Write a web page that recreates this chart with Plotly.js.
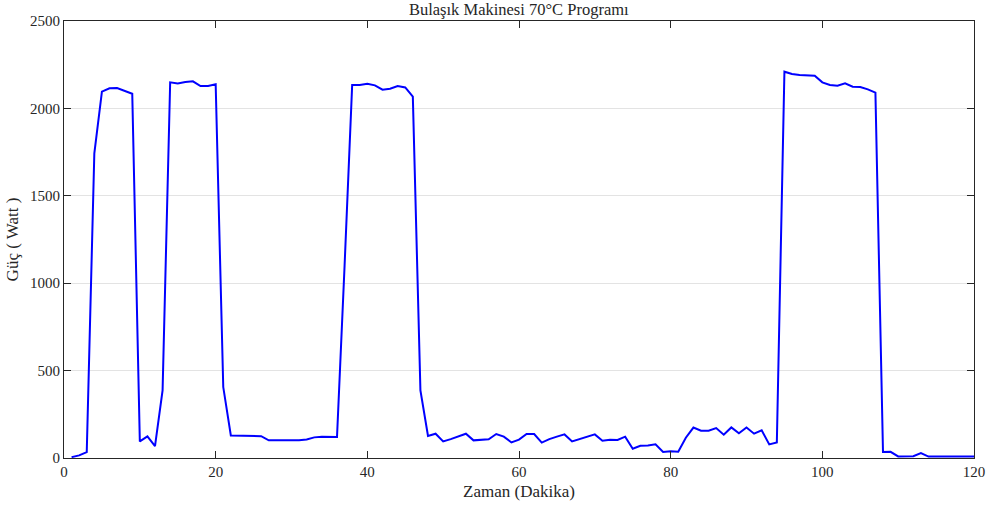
<!DOCTYPE html>
<html>
<head>
<meta charset="utf-8">
<script src="https://cdn.plot.ly/plotly-3.0.1.min.js"></script>
<style>html,body{margin:0;padding:0;background:#fff;}#chart{width:991px;height:511px;}</style>
</head>
<body>
<div id="chart"></div>
<script>
const minutes = Array.from({length: 120}, (_, i) => i + 1);
const powerW = [
  5, 15, 34, 1743, 2096, 2115, 2117, 2100, 2084, 95,
  124, 68, 387, 2149, 2143, 2151, 2155, 2128, 2128, 2138,
  406, 129, 128, 127, 126, 125, 101, 100, 100, 100,
  101, 106, 118, 121, 121, 120, 1100, 2134, 2134, 2141,
  2132, 2107, 2113, 2128, 2120, 2067, 387, 126, 139, 95,
  108, 124, 139, 101, 105, 107, 137, 122, 89, 105,
  137, 137, 88, 108, 122, 135, 95, 108, 122, 135,
  99, 105, 103, 122, 53, 70, 72, 78, 34, 38,
  36, 116, 174, 156, 156, 171, 133, 175, 141, 175,
  139, 158, 78, 89, 2210, 2197, 2191, 2189, 2187, 2149,
  2134, 2130, 2143, 2124, 2122, 2109, 2090, 34, 35, 9,
  9, 10, 28, 8, 8, 8, 8, 8, 8, 8
];
const xTicks = [0, 20, 40, 60, 80, 100, 120];
const yTicks = [0, 500, 1000, 1500, 2000, 2500];
const titleText = 'Bulaşık Makinesi 70°C Programı';
const xTitle = 'Zaman (Dakika)';
const yTitle = 'Güç ( Watt )';

const family = '"Liberation Serif", "Times New Roman", serif';
const font = {family: family, size: 15, color: '#262626'};
const bigFont = {family: family, size: 17, color: '#262626'};
const titleFont = {family: family, size: 16.5, color: '#262626'};

const trace = {
  x: minutes, y: powerW, type: 'scatter', mode: 'lines',
  line: {color: '#0000ff', width: 2}, hoverinfo: 'skip'
};

const axisCommon = {
  showline: true, mirror: 'ticks', linecolor: '#262626', linewidth: 1,
  ticks: 'inside', ticklen: 7, tickcolor: '#262626', tickwidth: 1,
  zeroline: false, tickfont: font
};

const layout = {
  width: 991, height: 511,
  margin: {l: 64, r: 17, t: 21, b: 53},
  paper_bgcolor: '#fff', plot_bgcolor: '#fff',
  font: font,
  showlegend: false,
  title: {text: titleText, font: titleFont, x: 0.5235, xanchor: 'center', yref: 'container', y: 0.981, yanchor: 'middle'},
  xaxis: Object.assign({}, axisCommon, {
    range: [0, 120], tickvals: xTicks, ticktext: xTicks.map(String),
    showgrid: false,
    title: {text: xTitle, font: bigFont, standoff: 6}
  }),
  yaxis: Object.assign({}, axisCommon, {
    range: [0, 2500], tickvals: yTicks, ticktext: yTicks.map(String),
    showgrid: true, gridcolor: '#e3e3e3', gridwidth: 1,
    title: {text: yTitle, font: bigFont, standoff: 7}
  })
};

Plotly.newPlot('chart', [trace], layout, {staticPlot: true, displayModeBar: false});
</script>
</body>
</html>
